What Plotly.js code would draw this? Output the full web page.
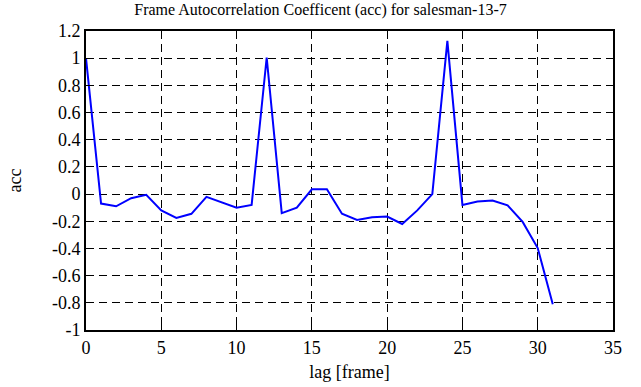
<!DOCTYPE html>
<html>
<head>
<meta charset="utf-8">
<script src="https://cdn.plot.ly/plotly-3.0.1.min.js"></script>
<style>
html,body{margin:0;padding:0;background:#fff;}
#chart{width:641px;height:387px;}
#chart .xtick text, #chart .ytick text{font-family:'Liberation Serif',serif !important;font-size:18px !important;}
</style>
</head>
<body>
<div id="chart"></div>
<script>
const lags = [0,1,2,3,4,5,6,7,8,9,10,11,12,13,14,15,16,17,18,19,20,21,22,23,24,25,26,27,28,29,30,31];
const acc = [1.0,-0.07,-0.09,-0.03,-0.005,-0.12,-0.175,-0.145,-0.02,-0.06,-0.10,-0.08,1.005,-0.14,-0.10,0.035,0.035,-0.145,-0.19,-0.17,-0.165,-0.22,-0.12,0.0,1.127,-0.08,-0.054,-0.047,-0.083,-0.205,-0.397,-0.81];
const xTicks = [0,5,10,15,20,25,30,35];
const yTicks = [-1,-0.8,-0.6,-0.4,-0.2,0,0.2,0.4,0.6,0.8,1,1.2];
const yTickText = ['-1','-0.8','-0.6','-0.4','-0.2','0','0.2','0.4','0.6','0.8','1','1.2'];
const font = 'Liberation Serif';
const tf = {family: font, size: 18, color: '#000'};
Plotly.newPlot('chart', [{
  x: lags, y: acc, type: 'scatter', mode: 'lines',
  line: {color: '#0000ff', width: 2}, hoverinfo: 'skip'
}], {
  width: 641, height: 387,
  margin: {l: 86, r: 28, t: 31, b: 57},
  paper_bgcolor: '#fff', plot_bgcolor: '#fff',
  showlegend: false,
  title: {text: 'Frame Autocorrelation Coefficent (acc) for salesman-13-7', font: {family: font, size: 16, color: '#000'}, x: 0.5, xanchor: 'center', y: 0.975, yanchor: 'middle'},
  font: tf,
  xaxis: {
    range: [0, 35], tickmode: 'array', tickvals: xTicks, ticktext: xTicks.map(String),
    tickfont: tf,
    showgrid: true, gridcolor: '#000', griddash: '8px,5px', gridwidth: 1,
    zeroline: false, showline: true, linecolor: '#000', linewidth: 2, mirror: 'ticks',
    ticks: 'inside', ticklen: 5, tickcolor: '#000',
    title: {text: 'lag [frame]', font: tf, standoff: 9}
  },
  yaxis: {
    range: [-1, 1.2], tickmode: 'array', tickvals: yTicks, ticktext: yTickText,
    tickfont: tf,
    showgrid: true, gridcolor: '#000', griddash: '8px,5px', gridwidth: 1,
    zeroline: false, showline: true, linecolor: '#000', linewidth: 2, mirror: 'ticks',
    ticks: 'inside', ticklen: 5, tickcolor: '#000',
    title: {text: 'acc', font: tf, standoff: 26}
  }
}, {displayModeBar: false});
</script>
</body>
</html>
